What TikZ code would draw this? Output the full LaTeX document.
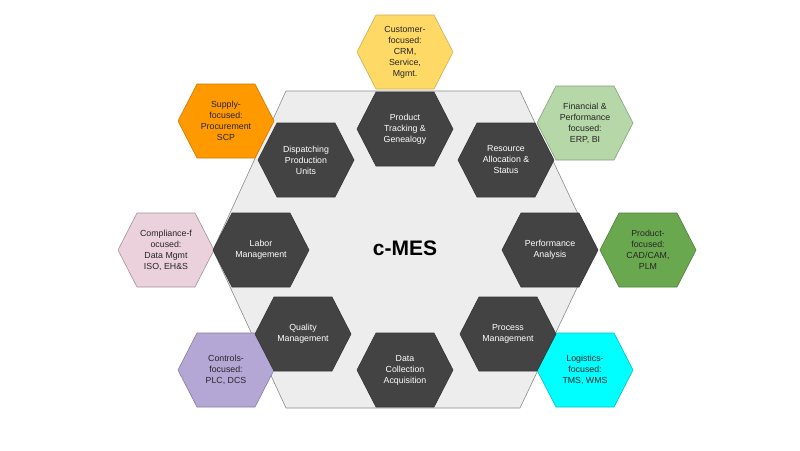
\documentclass[tikz,border=0pt]{standalone}
\usepackage{fontspec}
\setmainfont{Liberation Sans}
\definecolor{dk}{HTML}{434343}
\definecolor{cOr}{HTML}{FF9900}
\definecolor{cYe}{HTML}{FFD966}
\definecolor{cLg}{HTML}{B6D7A8}
\definecolor{cPk}{HTML}{EAD1DC}
\definecolor{cGr}{HTML}{6AA84F}
\definecolor{cPu}{HTML}{B4A7D6}
\definecolor{cCy}{HTML}{00FFFF}
\tikzset{
  hexshape/.style={line width=0.6pt},
  darkhex/.style={hexshape,fill=dk,draw=dk!80!black},
  darktxt/.style={text=white,align=center,font=\fontsize{8.8}{11}\selectfont},
  coltxt/.style={text=black!85,align=center,font=\fontsize{8.8}{11}\selectfont},
}
% #1 x, #2 y, #3 fill style, #4 name, #5 text style, #6 text
\newcommand{\myhex}[6]{%
  \fill[#3] (#1-48,#2) -- (#1-29,#2-37) -- (#1+29,#2-37) -- (#1+48,#2) -- (#1+29,#2+37) -- (#1-29,#2+37) -- cycle;
  \node[#5] (#4) at (#1,#2) {#6};
}
\begin{document}
\begin{tikzpicture}[x=1pt,y=-1pt]
\useasboundingbox (0,0) rectangle (800,450);
\fill[white] (0,0) rectangle (800,450);
% big hexagon
\filldraw[fill=black!7,draw=black!45,line width=0.6pt] (213,250) -- (286,91) -- (520,91) -- (595,250) -- (520,408) -- (286,408) -- cycle;
\node[font=\bfseries\fontsize{21}{24}\selectfont] (cmes) at (405,248) {c-MES};
% outer coloured hexagons
\myhex{405}{52}{hexshape,fill=cYe,draw=cYe!80!black}{cust}{coltxt}{Customer-\\focused:\\CRM,\\Service,\\Mgmt.}
\myhex{226}{121}{hexshape,fill=cOr,draw=cOr!80!black}{supp}{coltxt}{Supply-\\focused:\\Procurement\\SCP}
\myhex{585}{123}{hexshape,fill=cLg,draw=cLg!75!black}{fin}{coltxt}{Financial \&\\Performance\\focused:\\ERP, BI}
\myhex{166}{250}{hexshape,fill=cPk,draw=cPk!70!black}{comp}{coltxt}{Compliance-f\\ocused:\\Data Mgmt\\ISO, EH\&S}
\myhex{648}{250}{hexshape,fill=cGr,draw=cGr!75!black}{prod}{coltxt}{Product-\\focused:\\CAD/CAM,\\PLM}
\myhex{226}{370}{hexshape,fill=cPu,draw=cPu!75!black}{ctrl}{coltxt}{Controls-\\focused:\\PLC, DCS}
\myhex{585}{370}{hexshape,fill=cCy,draw=cCy!75!black}{logi}{coltxt}{Logistics-\\focused:\\TMS, WMS}
% dark hexagons
\myhex{405}{129}{darkhex}{track}{darktxt}{Product\\Tracking \&\\Genealogy}
\myhex{306}{160}{darkhex}{disp}{darktxt}{Dispatching\\Production\\Units}
\myhex{506}{160}{darkhex}{res}{darktxt}{Resource\\Allocation \&\\Status}
\myhex{261}{250}{darkhex}{labor}{darktxt}{Labor\\Management}
\myhex{550}{250}{darkhex}{perf}{darktxt}{Performance\\Analysis}
\myhex{303}{334}{darkhex}{qual}{darktxt}{Quality\\Management}
\myhex{508}{334}{darkhex}{proc}{darktxt}{Process\\Management}
\myhex{405}{370}{darkhex}{data}{darktxt}{Data\\Collection\\Acquisition}
\end{tikzpicture}
\end{document}
